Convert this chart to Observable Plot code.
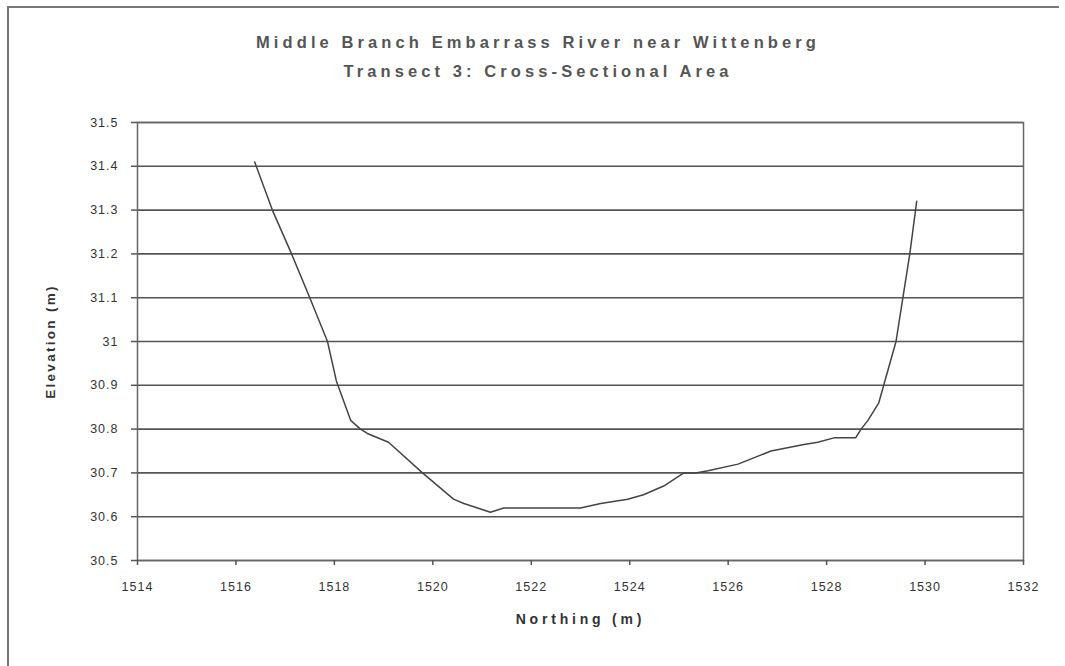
<!DOCTYPE html>
<html>
<head>
<meta charset="utf-8">
<script src="https://cdn.jsdelivr.net/npm/d3@7"></script>
<script src="https://cdn.jsdelivr.net/npm/@observablehq/plot@0.6"></script>
<style>
  html, body { margin: 0; padding: 0; background: #fff; }
  #wrap { position: relative; width: 1065px; height: 666px; overflow: hidden; font-family: "Liberation Sans", Arial, sans-serif; }
  #border { position: absolute; left: 7px; top: 6px; width: 1050px; height: 700px; border-left: 2px solid #777; border-top: 2px solid #777; }
  #title { position: absolute; left: 538px; top: 28px; transform: translateX(-50%); text-align: center; white-space: nowrap;
           font-size: 16.5px; line-height: 29px; font-weight: bold; color: #555; letter-spacing: 4.1px; }
  #chart { position: absolute; left: 0; top: 0; }
</style>
</head>
<body>
<div id="wrap">
  <div id="border"></div>
  <div id="chart"></div>
  <div id="title">Middle Branch Embarrass River near Wittenberg<br>Transect 3: Cross-Sectional Area</div>
</div>
<script>
const northing = [1516.38, 1516.74, 1517.13, 1517.50, 1517.86, 1518.04, 1518.33, 1518.53, 1518.67, 1519.10,
  1519.79, 1520.42, 1520.63, 1520.91, 1521.17, 1521.44, 1523.00, 1523.41, 1523.96, 1524.28,
  1524.69, 1525.10, 1525.34, 1525.59, 1526.20, 1526.87, 1527.54, 1527.82, 1528.15, 1528.59,
  1528.70, 1528.84, 1529.06, 1529.16, 1529.41, 1529.55, 1529.69, 1529.83];
const elevation = [31.41, 31.30, 31.20, 31.10, 31.00, 30.91, 30.82, 30.80, 30.79, 30.77,
  30.70, 30.64, 30.63, 30.62, 30.61, 30.62, 30.62, 30.63, 30.64, 30.65,
  30.67, 30.70, 30.70, 30.705, 30.72, 30.75, 30.765, 30.77, 30.78, 30.78,
  30.80, 30.82, 30.86, 30.90, 31.00, 31.10, 31.20, 31.32];
const xTicks = [1514, 1516, 1518, 1520, 1522, 1524, 1526, 1528, 1530, 1532];
const yTicks = [30.5, 30.6, 30.7, 30.8, 30.9, 31.0, 31.1, 31.2, 31.3, 31.4, 31.5];
const xLabel = "Northing (m)";
const yLabel = "Elevation (m)";

const data = northing.map((x, i) => ({x, y: elevation[i]}));
const fmt = d => String(Math.round(d * 10) / 10);

const plot = Plot.plot({
  width: 1065,
  height: 666,
  marginLeft: 137,
  marginRight: 42,
  marginTop: 122,
  marginBottom: 106,
  style: {background: "transparent", fontFamily: "'Liberation Sans', Arial, sans-serif", color: "#333"},
  x: {domain: [1514, 1532], label: null},
  y: {domain: [30.5, 31.5], label: null},
  marks: [
    Plot.ruleY(yTicks, {stroke: "#555", strokeWidth: 1.6}),
    Plot.frame({stroke: "#666", strokeWidth: 1.5}),
    Plot.axisX({ticks: xTicks, tickFormat: fmt, tickSize: 5, tickPadding: 17, fontSize: 12.5, stroke: "#555", strokeWidth: 1.5, fill: "#333"}),
    Plot.axisY({ticks: yTicks, tickFormat: fmt, tickSize: 6, tickPadding: 13, fontSize: 12.5, stroke: "#555", strokeWidth: 1.5, fill: "#333"}),
    Plot.line(data, {x: "x", y: "y", stroke: "#444", strokeWidth: 1.5}),
    Plot.text([yLabel], {frameAnchor: "left", dx: -87, rotate: -90, text: d => d, fontSize: 13.5, fontWeight: "bold", fill: "#333", textAnchor: "middle"}),
    Plot.text([xLabel], {frameAnchor: "bottom", dy: 63, text: d => d, fontSize: 14, fontWeight: "bold", fill: "#333", textAnchor: "middle"})
  ]
});
document.getElementById("chart").appendChild(plot);
d3.select(plot).selectAll("g[aria-label='x-axis tick label'] text, g[aria-label='y-axis tick label'] text").style("letter-spacing", "1px");
const labels = d3.select(plot).selectAll("g[aria-label='text'] text");
labels.filter(function() { return this.textContent === yLabel; }).style("letter-spacing", "2.3px");
labels.filter(function() { return this.textContent === xLabel; }).style("letter-spacing", "3.8px");
</script>
</body>
</html>
